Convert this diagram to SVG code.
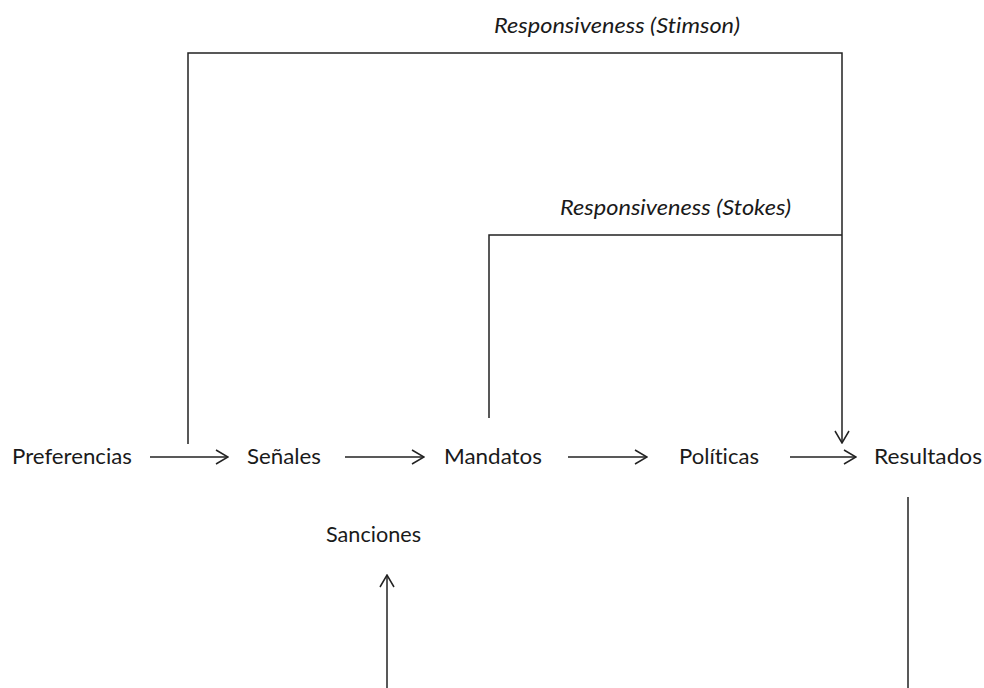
<svg xmlns="http://www.w3.org/2000/svg" width="984" height="688" viewBox="0 0 984 688">
<defs>
<style>
.t{font-family:"Lato","Open Sans","Liberation Sans",sans-serif;font-size:21.5px;fill:#1a1a1a;font-variant-ligatures:none}
.i{font-style:italic;font-size:22px}
.c{fill:none;stroke:#222;stroke-width:1.5}
</style>
<marker id="ah" viewBox="0 0 14 16" refX="13" refY="8" markerWidth="14" markerHeight="16" markerUnits="userSpaceOnUse" orient="auto">
<path d="M1,1 L13,8 L1,15" fill="none" stroke="#222" stroke-width="1.5"/>
</marker>
</defs>
<rect width="984" height="688" fill="#fff"/>
<g id="labels">
<text class="t i" x="494" y="33" textLength="246" lengthAdjust="spacingAndGlyphs">Responsiveness (Stimson)</text>
<text class="t i" x="560" y="215" textLength="231" lengthAdjust="spacingAndGlyphs">Responsiveness (Stokes)</text>
</g>
<g id="n-preferencias"><text class="t" x="12" y="464" textLength="120" lengthAdjust="spacingAndGlyphs">Preferencias</text></g>
<g id="n-senales"><text class="t" x="247" y="464" textLength="74" lengthAdjust="spacingAndGlyphs">Señales</text></g>
<g id="n-mandatos"><text class="t" x="444" y="464" textLength="98" lengthAdjust="spacingAndGlyphs">Mandatos</text></g>
<g id="n-politicas"><text class="t" x="679" y="464" textLength="80" lengthAdjust="spacingAndGlyphs">Políticas</text></g>
<g id="n-resultados"><text class="t" x="874" y="464" textLength="108" lengthAdjust="spacingAndGlyphs">Resultados</text></g>
<g id="n-sanciones"><text class="t" x="326" y="542" textLength="95" lengthAdjust="spacingAndGlyphs">Sanciones</text></g>
<g id="connectors">
<line class="c" x1="150" y1="457" x2="228" y2="457" marker-end="url(#ah)"/>
<line class="c" x1="345" y1="457" x2="424" y2="457" marker-end="url(#ah)"/>
<line class="c" x1="568" y1="457" x2="647" y2="457" marker-end="url(#ah)"/>
<line class="c" x1="790" y1="457" x2="856" y2="457" marker-end="url(#ah)"/>
<polyline class="c" points="188,444 188,53 842,53 842,443" marker-end="url(#ah)"/>
<polyline class="c" points="489,418 489,235 842,235"/>
<line class="c" x1="387" y1="688" x2="387" y2="575" marker-end="url(#ah)"/>
<line class="c" x1="908" y1="497" x2="908" y2="688"/>
</g>
</svg>
